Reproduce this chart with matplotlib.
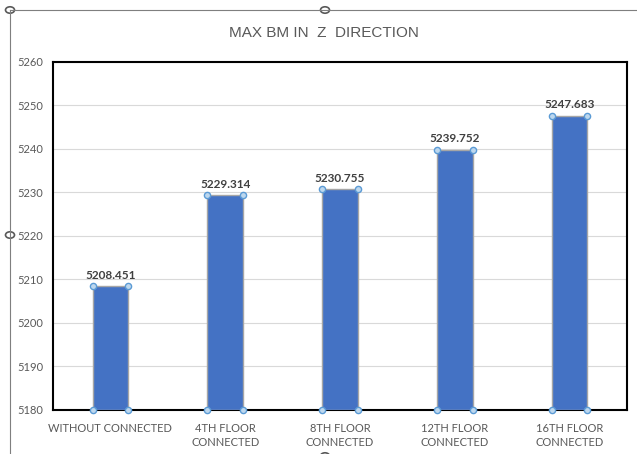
import matplotlib
matplotlib.use("Agg")
import matplotlib.pyplot as plt
from matplotlib.lines import Line2D
from matplotlib.patches import Circle

categories = ["WITHOUT CONNECTED", "4TH FLOOR\nCONNECTED", "8TH FLOOR\nCONNECTED",
              "12TH FLOOR\nCONNECTED", "16TH FLOOR\nCONNECTED"]
values = [5208.451, 5229.314, 5230.755, 5239.752, 5247.683]
yticks = [5180, 5190, 5200, 5210, 5220, 5230, 5240, 5250, 5260]

plt.rcParams['font.family'] = ['Lato', 'DejaVu Sans']

W, H = 637, 454
fig = plt.figure(figsize=(W / 100, H / 100), dpi=100)
ax = fig.add_axes([53 / W, 1 - 410 / H, (627 - 53) / W, (410 - 62) / H])

x = list(range(len(categories)))
bw = 0.31
ax.bar(x, [v - yticks[0] for v in values], bottom=yticks[0], width=bw,
       color="#4472C4", edgecolor="#A6A6A6", linewidth=1.0, zorder=3)

ax.set_ylim(yticks[0], yticks[-1])
ax.set_xlim(-0.5, len(categories) - 0.5)
ax.set_yticks(yticks)
ax.set_yticklabels([str(t) for t in yticks], fontsize=8, color="#595959")
ax.set_xticks(x)
ax.set_xticklabels(categories, fontsize=8, color="#595959", linespacing=1.35)
ax.tick_params(axis="both", length=0, pad=7)
ax.tick_params(axis="x", pad=9)
ax.grid(axis="y", color="#D9D9D9", linewidth=0.8, zorder=0)
for s in ax.spines.values():
    s.set_color("black")
    s.set_linewidth(1.5)

for xi, v in zip(x, values):
    ax.text(xi, v + 1.3, f"{v:.3f}", ha="center", va="bottom", fontsize=8.5,
            fontweight="bold", color="#404040")

# selection handles at bar corners
hx, hy = [], []
for xi, v in zip(x, values):
    for dx in (-bw / 2, bw / 2):
        hx += [xi + dx, xi + dx]
        hy += [v, yticks[0]]
ax.scatter(hx, hy, s=20, facecolor="#BDD7EE", edgecolor="#5B9BD5", linewidth=1.0,
           zorder=5, clip_on=False)

# chart area border and handles
fig.add_artist(Line2D([10 / W, 1], [1 - 10 / H, 1 - 10 / H], color="#7F7F7F", linewidth=0.8))
fig.add_artist(Line2D([10 / W, 10 / W], [0, 1 - 10 / H], color="#7F7F7F", linewidth=0.8))
for (px, py) in [(10, 10), (325, 10), (10, 235), (325, 456)]:
    fig.add_artist(Circle((px / W, 1 - py / H), 4.5 / W, transform=fig.transFigure,
                          facecolor="white", edgecolor="#595959", linewidth=1.2))

fig.text(0.5 + 5 / W, 1 - 33 / H, "MAX BM IN  Z  DIRECTION", ha="center", va="center",
         fontsize=11, color="#595959", family=['Liberation Sans', 'DejaVu Sans'])

fig.savefig("out.png", dpi=100)
